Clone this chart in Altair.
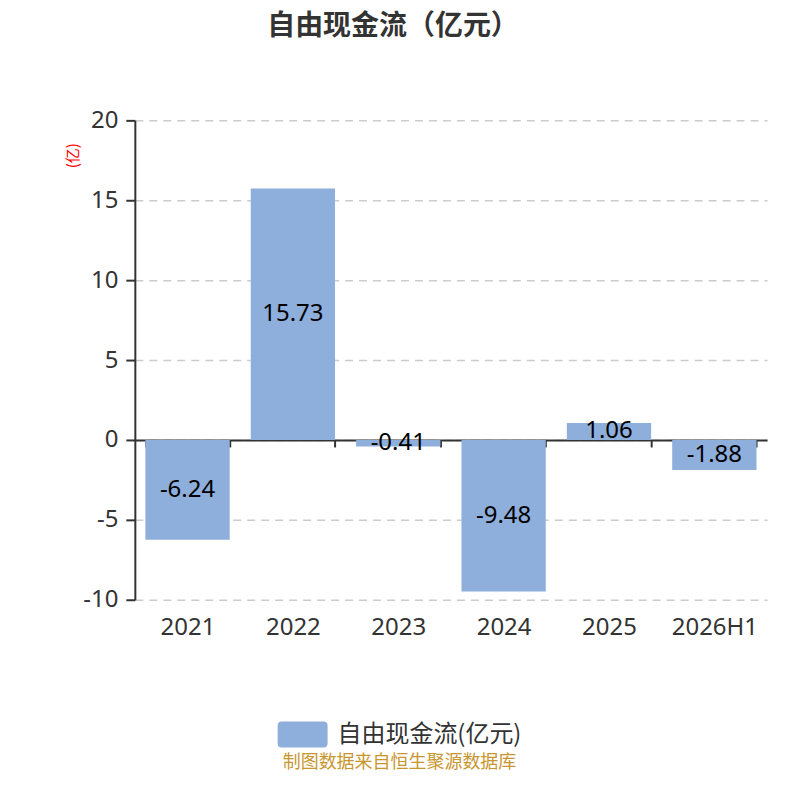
import altair as alt
import pandas as pd

categories = ["2021", "2022", "2023", "2024", "2025", "2026H1"]
values = [-6.24, 15.73, -0.41, -9.48, 1.06, -1.88]
series_name = "自由现金流(亿元)"
y_ticks = [-10, -5, 0, 5, 10, 15, 20]

df = pd.DataFrame({"cat": categories, "val": values, "series": series_name})
df["label"] = [f"{v:.2f}" for v in values]

FONT = "Noto Sans"
CJK = "Noto Sans CJK SC"
BAR = "#8eaedb"

x_enc = alt.X(
    "cat:N",
    sort=categories,
    scale=alt.Scale(paddingInner=0.2, paddingOuter=0.1),
    axis=alt.Axis(
        title=None,
        orient="bottom",
        offset=-160,
        tickBand="extent",
        tickSize=7,
        tickWidth=2,
        tickColor="#333333",
        domainColor="#333333",
        domainWidth=2,
        labelAngle=0,
        labelFont=FONT,
        labelFontSize=24,
        labelColor="#333333",
        labelPadding=181,
        labelBaseline="middle",
        grid=False,
    ),
)

y_enc = alt.Y(
    "val:Q",
    scale=alt.Scale(domain=[-10, 20], nice=False, zero=False),
    axis=alt.Axis(
        values=y_ticks,
        labelExpr="'' + datum.value",
        title="(亿)",
        titleColor="red",
        titleFont=CJK,
        titleFontSize=15,
        titleFontWeight="normal",
        titleAngle=270,
        titleX=-62,
        titleY=35,
        titleAlign="center",
        titleBaseline="middle",
        domainColor="#333333",
        domainWidth=2,
        tickColor="#333333",
        tickWidth=2,
        tickSize=9,
        labelFont=FONT,
        labelFontSize=24,
        labelColor="#333333",
        labelPadding=8,
        grid=True,
        gridColor="#cccccc",
        gridDash=[8, 6],
        gridWidth=1.5,
    ),
)

legend_symbol = "M-0.84,-0.52 L0.84,-0.52 Q1,-0.52 1,-0.36 L1,0.36 Q1,0.52 0.84,0.52 L-0.84,0.52 Q-1,0.52 -1,0.36 L-1,-0.36 Q-1,-0.52 -0.84,-0.52 Z"

bars = alt.Chart(df).mark_bar().encode(
    x=x_enc,
    y=y_enc,
    color=alt.Color(
        "series:N",
        scale=alt.Scale(range=[BAR]),
        legend=alt.Legend(
            title=None,
            orient="none",
            legendX=143,
            legendY=590,
            symbolType=legend_symbol,
            symbolSize=2500,
            symbolStrokeWidth=0,
            symbolOpacity=1,
            labelFont=CJK,
            labelFontSize=24,
            labelColor="#333333",
            labelOffset=10,
            labelLimit=0,
        ),
    ),
)

labels = alt.Chart(df).transform_calculate(mid="datum.val / 2").mark_text(
    font=FONT, fontSize=24, color="#000000", baseline="middle", align="center"
).encode(
    x=alt.X("cat:N", sort=categories),
    y=alt.Y("mid:Q"),
    text="label:N",
)

footer = alt.Chart(pd.DataFrame({"t": ["制图数据来自恒生聚源数据库"]})).mark_text(
    font=CJK, fontSize=18, color="#c8962e", align="center", baseline="middle"
).encode(
    x=alt.value(265),
    y=alt.value(643),
    text="t:N",
)

chart = alt.layer(bars, labels, footer).properties(
    width=633,
    height=480,
    padding={"left": 127, "top": 112, "right": 25, "bottom": 200},
    autosize=alt.AutoSizeParams(type="none"),
    title=alt.TitleParams(
        text="自由现金流（亿元）",
        font=CJK,
        fontSize=28,
        fontWeight="bold",
        color="#333333",
        anchor="middle",
        dx=-58,
        offset=67,
    ),
).configure_view(stroke=None)

chart.save("out.html", embed_options={"renderer": "svg", "actions": False})
